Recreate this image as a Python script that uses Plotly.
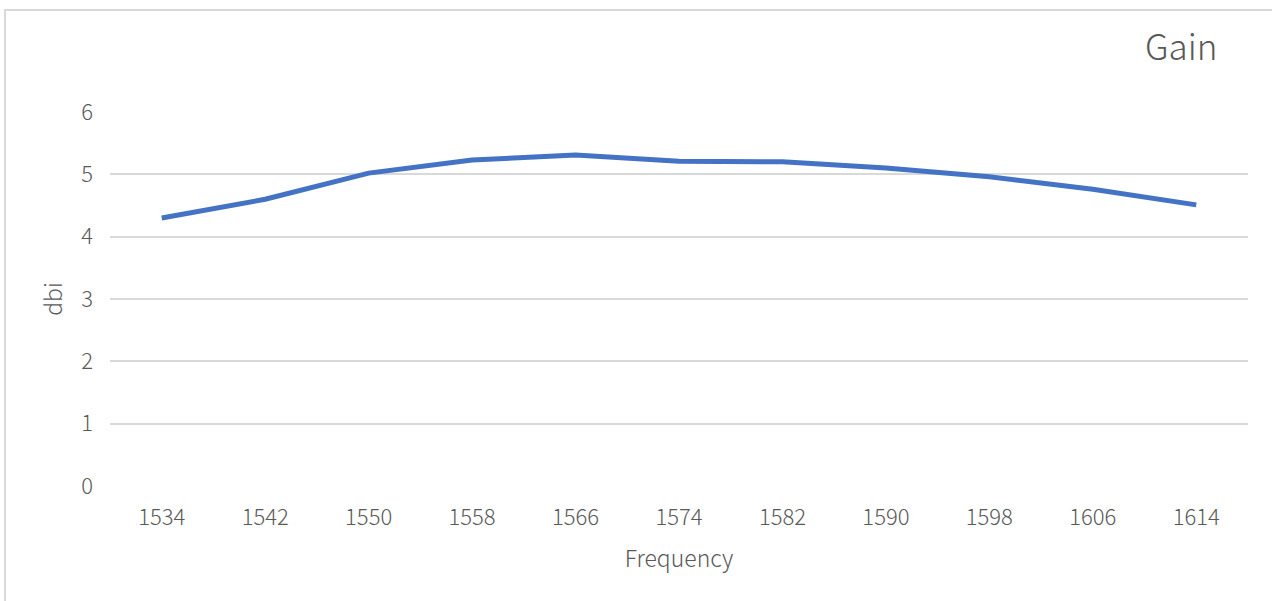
import plotly.graph_objects as go

frequency = ["1534", "1542", "1550", "1558", "1566", "1574", "1582", "1590", "1598", "1606", "1614"]
gain_dbi = [4.30, 4.60, 5.02, 5.23, 5.31, 5.21, 5.20, 5.10, 4.96, 4.76, 4.51]
y_ticks = [0, 1, 2, 3, 4, 5, 6]

FONT = "Noto Sans CJK SC"
GREY = "#595959"

fig = go.Figure()
fig.add_trace(go.Scatter(
    x=frequency, y=gain_dbi, mode="lines",
    line=dict(color="#4472C4", width=5),
    showlegend=False,
))

W, H = 1272, 601
L, R, T, B = 110, 24, 112, 115
pw, ph = W - L - R, H - T - B

def px(x):
    return (x - L) / pw

def py(y):
    return (H - B - y) / ph

fig.update_layout(
    width=W, height=H,
    margin=dict(l=L, r=R, t=T, b=B),
    paper_bgcolor="white", plot_bgcolor="white",
    font=dict(family=FONT, color=GREY, size=20, weight=300),
    xaxis=dict(
        type="category", range=[-0.5, len(frequency) - 0.5],
        showgrid=False, zeroline=False, showline=False,
        ticks="", ticklabelstandoff=16,
        tickfont=dict(size=22, color=GREY, weight=300),
        title=dict(text="Frequency", font=dict(size=23, color=GREY, weight=300), standoff=20),
    ),
    yaxis=dict(
        range=[0, 6], tickvals=y_ticks, ticktext=[str(v) for v in y_ticks],
        showgrid=True, gridcolor="#d9d9d9", gridwidth=2,
        zeroline=False, showline=False, ticks="",
        ticklabelstandoff=16,
        tickfont=dict(size=22, color=GREY, weight=300),
        title=dict(text="dbi", font=dict(size=23, color=GREY, weight=300), standoff=12),
    ),
    shapes=[dict(
        type="rect", xref="paper", yref="paper",
        x0=px(5), x1=px(1290), y0=py(10), y1=py(620),
        line=dict(color="#d9d9d9", width=2), fillcolor="rgba(0,0,0,0)",
        layer="below",
    )],
    annotations=[dict(
        text="Gain", xref="paper", yref="paper",
        x=px(1219), y=py(45), xanchor="right", yanchor="middle",
        showarrow=False, font=dict(size=35, color=GREY, family=FONT, weight=300),
    )],
)

fig.write_html("out.html")
